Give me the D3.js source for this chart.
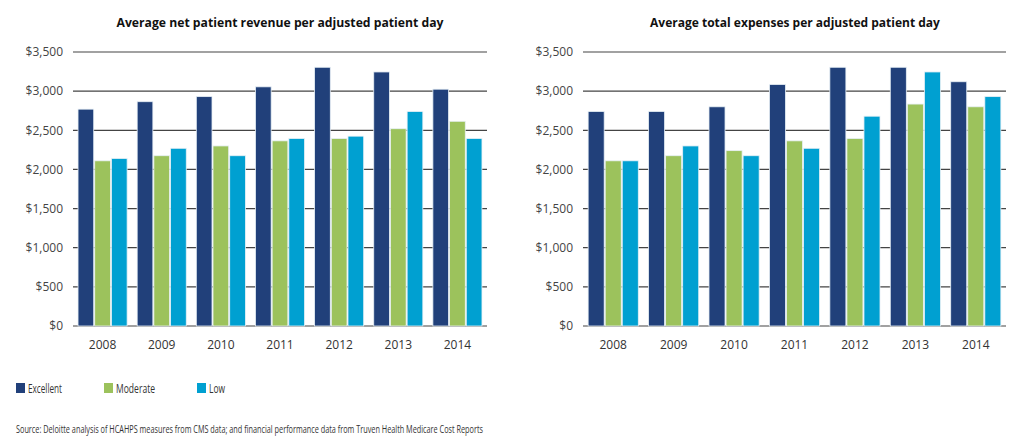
<!DOCTYPE html>
<html>
<head>
<meta charset="utf-8">
<script src="https://cdn.jsdelivr.net/npm/d3@7"></script>
<style>
  body { margin: 0; background: #fff; }
  svg { display: block; font-family: "Open Sans", sans-serif; }
</style>
</head>
<body>
<svg id="chart" width="1024" height="443"></svg>
<script>
const years = ["2008", "2009", "2010", "2011", "2012", "2013", "2014"];
const seriesNames = ["Excellent", "Moderate", "Low"];
const colors = ["#21407a", "#9cc25c", "#00a0d1"];
const yTicks = [0, 500, 1000, 1500, 2000, 2500, 3000, 3500];

// revenue per adjusted patient day
const revExcellent = [2770, 2865, 2930, 3055, 3305, 3245, 3025];
const revModerate  = [2110, 2175, 2300, 2365, 2395, 2520, 2615];
const revLow       = [2140, 2270, 2175, 2395, 2425, 2740, 2395];

// expenses per adjusted patient day
const expExcellent = [2740, 2740, 2800, 3085, 3305, 3305, 3120];
const expModerate  = [2110, 2175, 2240, 2365, 2395, 2835, 2800];
const expLow       = [2110, 2300, 2175, 2270, 2680, 3245, 2930];

const svg = d3.select("#chart");
const narrow = "'Liberation Sans Narrow', 'Open Sans', sans-serif";

/* one panel */
function drawPanel(title, series, x0, x1, titleX, titleSize) {
  const g = svg.append("g");
  const y = d3.scaleLinear().domain([0, 3500]).range([326, 52]);
  const x = d3.scaleBand().domain(years).range([x0, x1]).paddingInner(0.17).paddingOuter(0.085);
  const xs = d3.scaleBand().domain(seriesNames).range([0, x.bandwidth()]).paddingInner(0.06);

  g.append("text")
    .attr("x", titleX).attr("y", 27)
    .attr("text-anchor", "middle")
    .attr("font-size", titleSize).attr("font-weight", "bold")
    .attr("fill", "#111")
    .text(title);

  // gridlines behind bars
  g.selectAll(".grid")
    .data(yTicks)
    .enter().append("line")
    .attr("x1", x0).attr("x2", x1)
    .attr("y1", d => y(d)).attr("y2", d => y(d))
    .attr("stroke", "#444").attr("stroke-width", 1.2);

  const yAxis = g.append("g")
    .attr("transform", `translate(${x0},0)`)
    .call(d3.axisLeft(y).tickValues(yTicks).tickSize(0).tickPadding(10)
      .tickFormat(d => "$" + d3.format(",")(d)));
  yAxis.select(".domain").remove();
  yAxis.selectAll("text").attr("font-size", 12).attr("fill", "#444")
    .attr("font-family", "Open Sans, sans-serif");

  const groups = g.selectAll(".yr")
    .data(years)
    .enter().append("g")
    .attr("transform", d => `translate(${x(d)},0)`);

  groups.selectAll("rect")
    .data((d, i) => series.map((s, k) => ({ name: seriesNames[k], v: s[i], c: colors[k] })))
    .enter().append("rect")
    .attr("x", d => xs(d.name))
    .attr("y", d => y(d.v))
    .attr("width", xs.bandwidth())
    .attr("height", d => y(0) - y(d.v))
    .attr("fill", d => d.c)
    .attr("stroke", "#e8f0f6").attr("stroke-width", 0.8);

  const xAxis = g.append("g")
    .attr("transform", "translate(0,326)")
    .call(d3.axisBottom(x).tickSize(0).tickPadding(14));
  xAxis.select(".domain").remove();
  xAxis.selectAll("text").attr("font-size", 12).attr("fill", "#333")
    .attr("font-family", "Open Sans, sans-serif");
}

drawPanel("Average net patient revenue per adjusted patient day",
  [revExcellent, revModerate, revLow], 73, 487, 280, 12.2);
drawPanel("Average total expenses per adjusted patient day",
  [expExcellent, expModerate, expLow], 583, 1006, 795, 12);

/* legend */
const legendX = [16, 104, 197];
const legendW = [34, 39, 16];
const legend = svg.append("g");
seriesNames.forEach((n, i) => {
  legend.append("rect")
    .attr("x", legendX[i]).attr("y", 383)
    .attr("width", 9).attr("height", 10)
    .attr("fill", colors[i]);
  legend.append("text")
    .attr("x", legendX[i] + 12).attr("y", 392.5)
    .attr("font-size", 12).attr("fill", "#333")
    .attr("font-family", narrow)
    .attr("textLength", legendW[i]).attr("lengthAdjust", "spacingAndGlyphs")
    .text(n);
});

svg.append("text")
  .attr("x", 16).attr("y", 433)
  .attr("font-size", 10).attr("fill", "#333")
  .attr("font-family", narrow)
  .attr("textLength", 467).attr("lengthAdjust", "spacingAndGlyphs")
  .text("Source: Deloitte analysis of HCAHPS measures from CMS data; and financial performance data from Truven Health Medicare Cost Reports");
</script>
</body>
</html>
